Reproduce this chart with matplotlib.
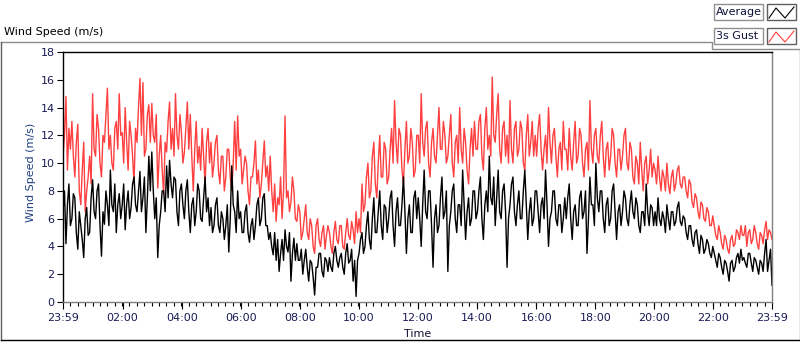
import numpy as np
import matplotlib
matplotlib.use("Agg")
import matplotlib.pyplot as plt
from matplotlib.lines import Line2D
from matplotlib.patches import Rectangle

# ---- data: values read per hour (20 readings / hour), 24 hours ----
gust = [
    10.5,12.0,14.8,9.5,12.5,11.0,13.0,10.5,9.0,11.5,12.8,8.0,7.0,9.5,11.5,6.5,8.0,9.0,10.5,8.5,
    15.0,11.0,10.5,13.5,12.5,10.0,9.0,12.0,11.5,13.5,15.4,11.0,12.0,10.0,9.5,12.5,13.0,11.0,15.0,12.0,
    12.2,10.0,14.0,11.5,9.5,13.0,12.0,10.5,8.5,12.5,11.5,14.0,16.1,12.0,15.8,10.5,11.0,13.5,14.2,11.5,
    14.3,12.0,11.5,13.5,8.2,10.5,12.0,9.5,7.8,11.5,10.8,13.0,14.4,11.0,12.5,10.5,15.0,12.0,11.0,13.5,
    12.2,10.0,10.8,12.5,14.4,11.0,13.5,10.5,8.0,11.0,13.0,10.0,11.2,9.5,12.5,10.5,8.5,11.5,12.5,10.0,
    11.5,9.0,10.0,11.5,12.0,9.5,8.5,10.5,10.5,8.0,9.0,11.0,11.0,9.0,8.0,10.0,13.0,9.5,13.4,10.5,
    11.0,8.5,9.5,10.5,10.0,8.0,7.0,9.0,9.0,10.0,11.6,8.5,9.5,7.5,8.5,10.0,11.6,9.0,9.8,8.0,
    10.5,8.0,6.5,8.5,5.8,7.5,7.0,9.0,6.0,8.0,13.4,7.5,8.0,6.5,7.2,9.0,8.0,6.0,5.8,7.0,
    6.5,4.5,5.0,6.0,7.0,5.0,4.5,6.0,5.5,4.0,3.5,5.5,6.0,4.5,4.0,5.0,5.5,3.8,4.8,5.5,
    5.0,4.0,3.5,5.0,5.8,4.5,4.2,5.5,5.5,4.0,3.8,5.0,6.0,4.8,4.5,5.8,5.2,4.2,6.5,5.0,
    6.0,5.0,8.5,6.5,7.0,9.0,10.0,7.5,8.0,10.5,11.5,8.5,7.5,10.0,12.0,9.0,9.0,11.5,11.0,8.5,
    9.0,11.0,12.5,10.0,14.5,11.5,10.0,12.5,12.0,9.5,8.5,11.0,13.0,10.0,10.5,12.5,11.5,9.0,9.5,12.0,
    12.0,10.0,15.0,11.5,10.5,12.5,13.0,10.0,9.0,11.5,12.5,10.5,10.0,12.0,14.0,11.0,11.0,13.0,12.0,10.0,
    10.5,12.0,13.5,10.0,9.0,11.5,12.0,10.0,14.0,11.0,10.0,12.5,11.5,9.5,8.5,11.0,12.5,10.5,13.0,11.0,
    11.0,13.0,13.5,10.5,9.5,12.5,14.0,11.0,12.0,10.5,16.2,12.0,11.5,13.5,15.0,11.0,10.0,12.5,13.0,10.5,
    12.0,10.0,14.5,11.0,10.0,12.5,13.0,10.5,11.0,13.0,12.5,10.0,9.5,12.0,13.5,10.5,11.5,13.0,10.5,12.0,
    10.5,12.5,13.5,11.0,9.5,11.0,12.0,10.0,14.0,11.5,10.0,12.0,12.5,10.5,9.0,11.0,11.5,9.5,13.0,11.0,
    11.0,9.5,12.5,10.5,9.5,11.5,13.0,10.0,10.5,12.5,12.0,10.0,9.0,11.0,11.5,9.5,14.5,11.0,10.0,12.0,
    12.5,10.5,10.0,12.0,13.0,10.5,9.0,11.0,11.5,9.5,10.5,12.5,12.0,10.0,9.0,11.0,11.0,9.5,10.5,12.0,
    12.5,10.0,9.5,11.5,11.0,9.0,8.5,10.5,10.0,8.5,11.5,9.5,8.0,10.0,10.5,8.5,9.5,11.0,9.0,10.0,
    9.5,8.5,10.5,9.0,8.0,9.5,9.0,8.0,10.0,8.5,7.8,9.0,9.5,8.0,8.5,9.5,9.8,8.5,8.2,9.0,
    9.0,8.0,7.5,8.8,8.5,7.2,6.8,7.8,7.5,6.5,6.0,7.2,7.0,6.0,5.8,6.8,6.5,5.5,5.5,6.2,
    5.5,4.8,4.5,5.5,5.0,4.2,3.8,4.8,4.5,3.8,3.5,4.5,4.8,4.0,4.2,5.2,5.0,4.5,5.5,4.8,
    4.8,5.5,4.0,5.0,5.2,4.2,4.5,5.5,5.0,4.2,3.8,5.0,4.8,4.2,5.2,5.8,4.5,5.2,5.0,4.5,
]
average = [
    6.5,8.0,4.2,7.0,8.5,5.5,6.0,7.8,7.5,5.0,3.8,6.5,5.5,4.5,3.2,6.0,6.8,4.8,5.0,7.5,
    8.8,6.5,6.0,8.0,8.5,5.5,3.3,6.5,5.6,8.0,7.0,5.5,9.5,7.0,6.5,8.5,5.0,7.0,7.8,6.0,
    7.0,8.5,5.2,7.0,8.0,6.0,6.8,8.5,9.0,7.0,6.5,8.0,9.4,6.5,7.5,9.0,5.0,7.5,10.5,8.0,
    10.8,8.0,6.0,7.5,3.2,5.5,6.5,8.0,8.0,6.5,9.8,7.5,10.2,8.5,7.5,9.0,8.8,6.5,5.5,8.0,
    8.5,7.0,6.0,8.0,8.8,6.5,5.0,7.0,7.5,5.5,6.5,8.5,8.0,6.0,5.8,7.5,9.0,6.5,7.5,5.5,
    6.8,5.0,5.5,7.0,7.5,5.5,5.0,6.5,6.0,4.5,5.5,7.0,3.6,6.0,9.8,7.0,6.5,5.0,8.0,6.0,
    6.5,5.0,5.0,6.5,7.0,5.0,4.3,5.5,6.0,4.5,5.5,7.0,7.5,5.5,6.0,7.5,7.8,5.5,5.5,4.5,
    5.0,4.0,3.4,5.0,3.0,4.5,2.2,3.5,4.5,3.0,5.2,4.0,3.6,5.0,1.5,3.5,4.6,3.0,4.2,3.0,
    3.0,3.8,2.0,3.0,3.8,2.5,1.5,3.0,2.8,1.8,0.5,2.5,2.5,3.5,3.5,2.2,1.8,3.2,3.0,2.2,
    3.2,2.5,2.2,3.5,4.0,3.0,2.5,3.2,3.5,2.5,2.0,3.5,4.2,2.8,3.0,3.8,1.5,3.0,0.4,3.0,
    3.5,4.5,5.0,3.5,4.0,5.5,6.5,4.5,3.8,6.0,7.5,5.0,5.0,6.5,8.0,5.5,4.5,7.0,6.8,5.0,
    6.0,7.5,8.0,5.5,4.0,6.5,7.5,5.5,5.5,7.0,9.0,6.5,3.5,6.0,7.0,5.0,5.0,7.5,8.0,6.0,
    7.5,6.0,4.0,7.0,9.5,6.5,6.0,8.0,8.0,5.5,2.5,6.0,7.0,5.0,5.5,7.5,9.0,6.0,6.5,8.0,
    2.2,5.5,6.5,8.0,8.5,6.0,5.0,7.0,7.0,5.5,9.5,7.0,4.5,6.5,7.5,5.5,6.0,8.0,8.0,6.0,
    6.5,8.0,9.0,6.0,4.5,7.0,8.0,6.5,10.5,7.5,7.0,9.0,5.5,7.5,9.5,6.5,6.0,8.0,8.5,6.5,
    2.5,6.0,7.0,8.5,9.0,6.5,5.5,7.0,8.0,6.0,6.0,8.0,9.5,7.0,4.5,6.5,7.5,5.5,6.0,8.0,
    8.0,6.5,5.0,7.0,7.5,6.0,9.5,7.0,4.0,6.0,6.5,8.0,8.0,6.0,5.5,7.0,7.0,5.0,6.0,7.5,
    6.0,7.5,8.5,6.0,4.5,6.5,7.0,5.5,5.5,7.5,8.0,6.0,6.5,8.0,3.5,6.0,9.0,7.0,7.0,5.5,
    10.0,7.5,6.5,8.0,8.0,6.0,5.0,7.0,7.5,5.5,6.0,8.0,8.5,6.5,4.5,6.5,7.0,5.5,6.5,8.0,
    7.5,6.0,5.5,7.0,8.0,6.5,6.0,7.5,7.0,5.5,5.0,6.5,6.5,5.5,8.5,6.5,5.5,7.0,6.8,5.5,
    6.5,5.5,7.5,6.0,5.5,6.5,6.0,5.0,7.0,6.0,5.2,6.5,6.5,5.5,5.8,6.8,7.2,5.8,5.5,6.2,
    6.0,5.0,4.5,5.5,5.5,4.5,4.0,5.0,5.2,4.2,3.5,4.8,4.5,3.5,3.8,4.5,4.2,3.5,3.2,4.0,
    3.5,3.0,2.5,3.5,3.2,2.5,2.0,3.0,2.8,2.2,1.5,2.8,3.0,2.2,2.5,3.2,3.5,2.8,3.8,3.0,
    3.2,2.8,2.5,3.5,3.5,2.8,2.2,3.2,3.0,2.5,2.0,3.0,2.8,2.2,3.5,4.5,2.2,3.0,3.8,1.2,
]
tick_labels = ["23:59", "02:00", "04:00", "06:00", "08:00", "10:00", "12:00",
               "14:00", "16:00", "18:00", "20:00", "22:00", "23:59"]
y_ticks = [0, 2, 4, 6, 8, 10, 12, 14, 16, 18]

# time axis in minutes, 23:59 (prev day) = -1 ... 23:59 = 1439
t_g = np.linspace(-1, 1439, len(gust))
t_a = np.linspace(-1, 1439, len(average))
tick_pos = [-1] + [120 * k for k in range(1, 12)] + [1439]

plt.rcParams["font.family"] = ["DejaVu Sans"]
FS = 8

W, H = 800, 342
fig = plt.figure(figsize=(W / 100, H / 100), dpi=100)
fig.patch.set_facecolor("white")

def fx(px):
    return px / W

def fy(py):
    return 1 - py / H

ax = fig.add_axes([fx(63), fy(302), fx(772) - fx(63), fy(52) - fy(302)])
ax.plot(t_g, gust, color="#ff4040", lw=1.0)
ax.plot(t_a, average, color="black", lw=1.0)
ax.set_xlim(-1, 1439)
ax.set_ylim(0, 18)

navy = "#1a1a55"
ax.set_yticks(y_ticks)
ax.set_yticklabels([str(v) for v in y_ticks], fontsize=FS, color=navy)
ax.set_xticks(tick_pos)
ax.set_xticklabels(tick_labels, fontsize=FS, color=navy)
ax.set_xticks(np.arange(15 - 1, 1439, 15), minor=True)
ax.tick_params(axis="y", length=4, width=0.8, color="black", pad=2)
ax.tick_params(axis="x", which="major", length=5, width=0.8, color="black", pad=3)
ax.tick_params(axis="x", which="minor", length=3, width=0.8, color="black")
for s in ("top", "left"):
    ax.spines[s].set_color("black")
    ax.spines[s].set_linewidth(1.0)
for s in ("right", "bottom"):
    ax.spines[s].set_color("#808080")
    ax.spines[s].set_linewidth(1.0)

fig.text(fx(31), fy(172), "Wind Speed (m/s)", rotation=90, ha="center", va="center",
         fontsize=FS, color="#1f3f7f")
fig.text(fx(418), fy(334), "Time", ha="center", va="center", fontsize=FS, color="#111133")
fig.text(fx(4), fy(32), "Wind Speed (m/s)", ha="left", va="center", fontsize=FS, color="black")

# panel frame
grey = "#8c8c8c"
def fline(xs, ys, color=grey, lw=1.0):
    fig.add_artist(Line2D([fx(x) for x in xs], [fy(y) for y in ys],
                          color=color, lw=lw, transform=fig.transFigure))

fline([0.5, 712, 712, 799.5, 799.5], [42, 42, 49, 49, 340], color=grey)
fline([0.5, 0.5], [42, 340], color="#606060")
fline([0.5, 799.5], [340, 340], color="black")

# legend boxes
for row, (label, col) in enumerate([("Average", "black"), ("3s Gust", "#ff4040")]):
    top = 4 + row * 24
    fig.add_artist(Rectangle((fx(714), fy(top + 16)), fx(49), 16 / H, transform=fig.transFigure,
                             facecolor="white", edgecolor="#909090", lw=1.0))
    fig.add_artist(Rectangle((fx(767), fy(top + 16)), fx(29), 16 / H, transform=fig.transFigure,
                             facecolor="white", edgecolor="#606060", lw=1.0))
    fig.text(fx(716), fy(top + 8), label, ha="left", va="center", fontsize=FS, color="#10103a")
    fline([769, 776, 785, 794], [top + 14, top + 4, top + 14, top + 3], color=col, lw=0.8)

fig.savefig("out.png", dpi=100, facecolor="white")
